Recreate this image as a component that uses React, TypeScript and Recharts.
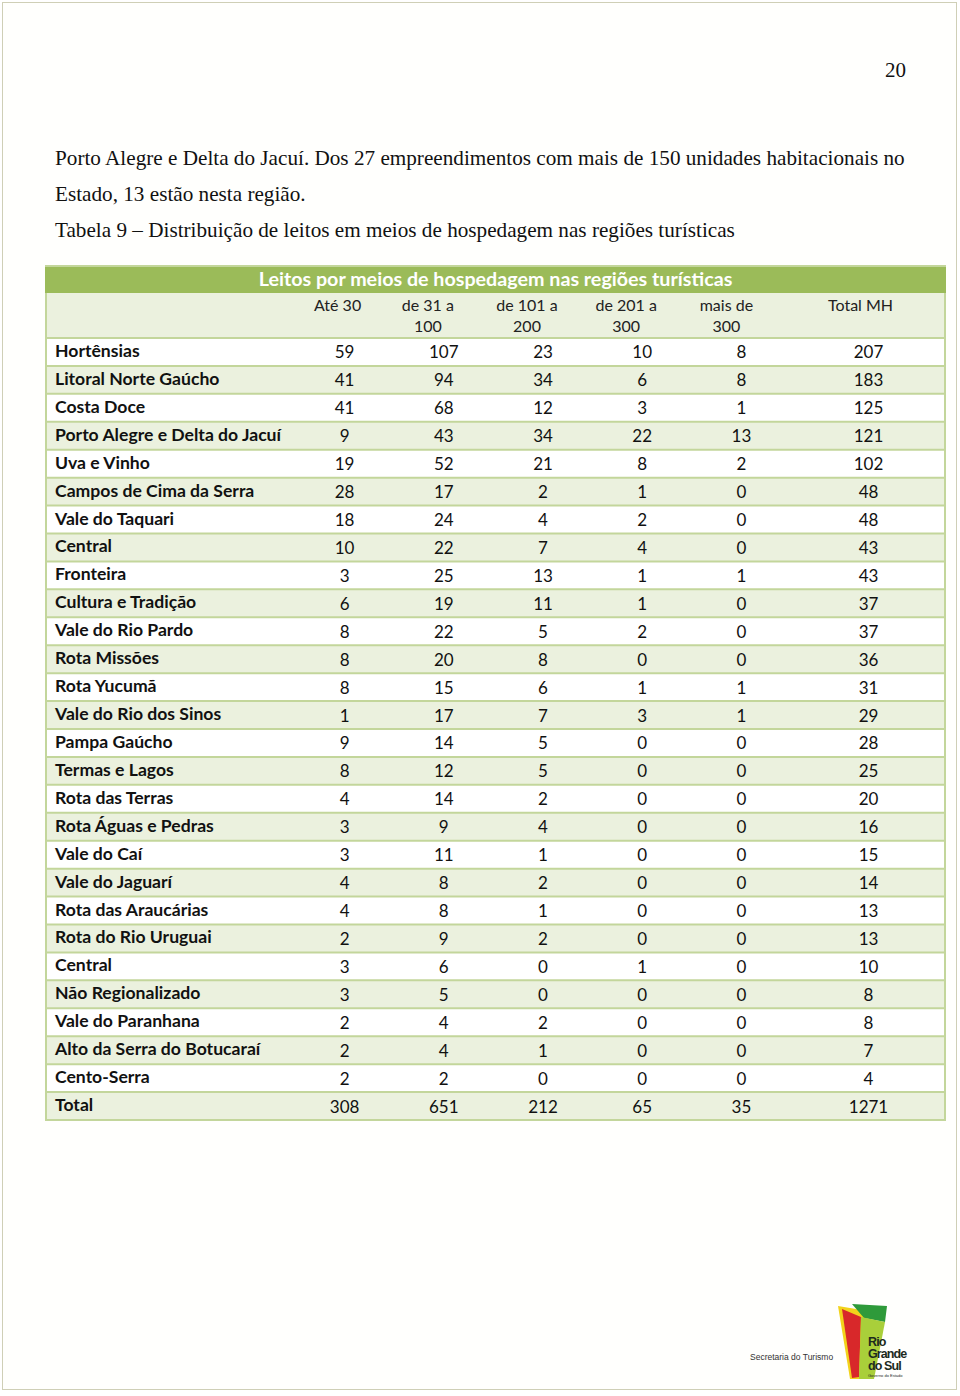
import React from "react";
import {
  ComposedChart,
  XAxis,
  YAxis,
  Scatter,
  CartesianGrid,
} from "recharts";

// ---------- DATA ----------
const regions = [
  "Hortênsias",
  "Litoral Norte Gaúcho",
  "Costa Doce",
  "Porto Alegre e Delta do Jacuí",
  "Uva e Vinho",
  "Campos de Cima da Serra",
  "Vale do Taquari",
  "Central",
  "Fronteira",
  "Cultura e Tradição",
  "Vale do Rio Pardo",
  "Rota Missões",
  "Rota Yucumã",
  "Vale do Rio dos Sinos",
  "Pampa Gaúcho",
  "Termas e Lagos",
  "Rota das Terras",
  "Rota Águas e Pedras",
  "Vale do Caí",
  "Vale do Jaguarí",
  "Rota das Araucárias",
  "Rota do Rio Uruguai",
  "Central",
  "Não Regionalizado",
  "Vale do Paranhana",
  "Alto da Serra do Botucaraí",
  "Cento-Serra",
  "Total",
];

const columns = ["Até 30", "de 31 a 100", "de 101 a 200", "de 201 a 300", "mais de 300"];
const columnHeaderLines = [["Até 30"], ["de 31 a", "100"], ["de 101 a", "200"], ["de 201 a", "300"], ["mais de", "300"]];
const totalColumn = "Total MH";

const ate30 = [59, 41, 41, 9, 19, 28, 18, 10, 3, 6, 8, 8, 8, 1, 9, 8, 4, 3, 3, 4, 4, 2, 3, 3, 2, 2, 2, 308];
const de31a100 = [107, 94, 68, 43, 52, 17, 24, 22, 25, 19, 22, 20, 15, 17, 14, 12, 14, 9, 11, 8, 8, 9, 6, 5, 4, 4, 2, 651];
const de101a200 = [23, 34, 12, 34, 21, 2, 4, 7, 13, 11, 5, 8, 6, 7, 5, 5, 2, 4, 1, 2, 1, 2, 0, 0, 2, 1, 0, 212];
const de201a300 = [10, 6, 3, 22, 8, 1, 2, 4, 1, 1, 2, 0, 1, 3, 0, 0, 0, 0, 0, 0, 0, 0, 1, 0, 0, 0, 0, 65];
const mais300 = [8, 8, 1, 13, 2, 0, 0, 0, 1, 0, 0, 0, 1, 1, 0, 0, 0, 0, 0, 0, 0, 0, 0, 0, 0, 0, 0, 35];
const totalMH = [207, 183, 125, 121, 102, 48, 48, 43, 43, 37, 37, 36, 31, 29, 28, 25, 20, 16, 15, 14, 13, 13, 10, 8, 8, 7, 4, 1271];

const columnValues = [ate30, de31a100, de101a200, de201a300, mais300];

const title = "Leitos por meios de hospedagem nas regiões turísticas";
const paragraphLines = [
  "Porto Alegre e Delta do Jacuí. Dos 27 empreendimentos com mais de 150 unidades habitacionais no",
  "Estado, 13 estão nesta região.",
  "Tabela 9 – Distribuição de leitos em meios de hospedagem nas regiões turísticas",
];
const pageNumber = "20";

// ---------- STYLE ----------
const FONT = "Lato, 'Open Sans', sans-serif";
const SERIF = "'Liberation Serif', 'DejaVu Serif', serif";
const GREEN = "#9bbb59";
const LIGHT = "#ebf1de";
const LINE = "#c3d69b";
const HEADER_DX = [-7, -16, -16, -16, -15];

const rowKeys = regions.map((_, i) => String(i));

const seriesData = (values: number[], col: string) =>
  rowKeys.map((k, i) => ({ row: k, col, value: values[i] }));

const CellText = (props: any) => {
  const { cx, cy, payload } = props;
  if (cx == null || cy == null) return null;
  return (
    <text x={cx} y={cy} textAnchor="middle" dominantBaseline="central" fontFamily={FONT} fontWeight={400} fontSize={17} fill="#111" stroke="none">
      {payload.value}
    </text>
  );
};

const RowLabel = (props: any) => {
  const { x, y, payload } = props;
  return (
    <text x={x} y={y - 1.5} textAnchor="start" dominantBaseline="central" fontFamily={FONT} fontWeight={700} fontSize={17.6} fill="#111" stroke="none">
      {regions[Number(payload.value)]}
    </text>
  );
};

const HeaderTick = (props: any) => {
  const { x, y, payload, shiftY } = props;
  const idx = columns.indexOf(payload.value);
  const ls: string[] = idx >= 0 ? columnHeaderLines[idx] : [payload.value];
  const tx = x + (idx >= 0 ? HEADER_DX[idx] : -8);
  return (
    <text x={tx} y={y + (shiftY || 0)} textAnchor="middle" fontFamily={FONT} fontWeight={400} fontSize={16} fill="#222" stroke="none">
      {ls.map((l, i) => (
        <tspan key={i} x={tx} dy={i === 0 ? 0 : 21}>
          {l}
        </tspan>
      ))}
    </text>
  );
};

// grid lines on the row band edges of the category y axis
const bandStart = (s: any, k: string): number | undefined => {
  try {
    if (typeof s === "function") return s(k);
    if (s && typeof s.map === "function") return s.map(k, { position: "start" });
    if (s && typeof s.apply === "function") return s.apply(k, { position: "start" });
  } catch (e) {
    return undefined;
  }
  return undefined;
};

const rowEdges = ({ yAxis, offset }: any) => {
  const n = rowKeys.length;
  const s = yAxis && yAxis.scale;
  const starts = rowKeys.map((k) => bandStart(s, k)).filter((v) => typeof v === "number" && isFinite(v as number)) as number[];
  if (starts.length === n) {
    const sorted = [...starts].sort((a, b) => a - b);
    const step = (sorted[n - 1] - sorted[0]) / (n - 1);
    return [...sorted, sorted[n - 1] + step];
  }
  if (offset) {
    return Array.from({ length: n + 1 }, (_, i) => offset.top + (i * offset.height) / n);
  }
  return [];
};

const tableSides = ({ offset }: any) => (offset ? [offset.left + 1, offset.left + offset.width - 1] : []);

const Logo = () => (
  <svg width={960} height={1396} style={{ position: "absolute", left: 0, top: 0, pointerEvents: "none" }}>
    <text x={750} y={1360} fontFamily="'Liberation Sans', Arial, sans-serif" fontSize={8.5} fill="#333">
      Secretaria do Turismo
    </text>
    <polygon points="838,1306 868,1311 862,1379 850,1379" fill="#f2d31b" />
    <polygon points="852,1304 887,1306 885,1322 864,1318" fill="#2e9a3a" />
    <polygon points="842,1309 861,1317 859,1377 852,1378" fill="#d8282a" />
    <polygon points="861,1317 885,1322 874,1379 859,1379" fill="#a9cf3a" />
    <text x={868} y={1346} fontFamily="'Liberation Sans', Arial, sans-serif" fontWeight={700} fontSize={12.5} fill="#1d2a1d" letterSpacing={-0.9}>
      Rio
    </text>
    <text x={868} y={1358} fontFamily="'Liberation Sans', Arial, sans-serif" fontWeight={700} fontSize={12.5} fill="#1d2a1d" letterSpacing={-0.9}>
      Grande
    </text>
    <text x={868} y={1370} fontFamily="'Liberation Sans', Arial, sans-serif" fontWeight={700} fontSize={12.5} fill="#1d2a1d" letterSpacing={-0.9}>
      do Sul
    </text>
    <text x={868} y={1376.5} fontFamily="'Liberation Sans', Arial, sans-serif" fontSize={4} fill="#1d2a1d">
      Governo do Estado
    </text>
  </svg>
);

export default function App() {
  return (
    <div style={{ position: "absolute", left: 0, top: 0, width: 960, height: 1396, background: "#ffffff", overflow: "hidden" }}>
      {/* page frame */}
      <div
        style={{
          position: "absolute",
          left: 2,
          top: 2,
          width: 953,
          height: 1386,
          border: "1.5px solid #cfcfb6",
          background: "#fffffd",
        }}
      />
      {/* page number */}
      <div style={{ position: "absolute", left: 885, top: 58, fontFamily: SERIF, fontSize: 21, color: "#111" }}>{pageNumber}</div>
      {/* paragraph */}
      {paragraphLines.map((l, i) => (
        <div
          key={i}
          style={{
            position: "absolute",
            left: 55,
            top: 146 + i * 36,
            fontFamily: SERIF,
            fontSize: 21.2,
            color: "#111",
            whiteSpace: "nowrap",
          }}
        >
          {l}
        </div>
      ))}
      {/* table header backgrounds */}
      <div style={{ position: "absolute", left: 45, top: 265, width: 901, height: 28, background: GREEN, borderTop: `2px solid ${LINE}`, boxSizing: "border-box" }} />
      <div style={{ position: "absolute", left: 45, top: 293, width: 901, height: 46, background: LIGHT, borderLeft: `2px solid ${LINE}`, borderRight: `2px solid ${LINE}`, boxSizing: "border-box" }} />
      <div
        style={{
          position: "absolute",
          left: 45,
          width: 901,
          top: 267,
          textAlign: "center",
          fontFamily: FONT,
          fontWeight: 700,
          fontSize: 19.7,
          color: "#ffffff",
        }}
      >
        {title}
      </div>

      <div style={{ position: "absolute", left: 0, top: 0 }}>
        <ComposedChart width={960} height={1396} margin={{ top: 292, left: 45, right: 14, bottom: 276 }}>
          <CartesianGrid
            horizontal
            vertical
            horizontalCoordinatesGenerator={rowEdges}
            verticalCoordinatesGenerator={tableSides}
            horizontalFill={["#ffffff", LIGHT]}
            fillOpacity={1}
            stroke={LINE}
            strokeWidth={2}
            strokeDasharray="0"
          />
          <XAxis
            xAxisId={0}
            type="category"
            dataKey="col"
            scale="band"
            orientation="top"
            height={45}
            allowDuplicatedCategory={false}
            ticks={columns}
            padding={{ left: 250, right: 155 }}
            axisLine={false}
            tickLine={false}
            tickSize={0}
            tickMargin={0}
            interval={0}
            tick={<HeaderTick shiftY={-27} />}
          />
          <XAxis
            xAxisId="total"
            type="category"
            dataKey="col"
            scale="band"
            orientation="top"
            height={1}
            allowDuplicatedCategory={false}
            ticks={[totalColumn]}
            padding={{ left: 746, right: 0 }}
            axisLine={false}
            tickLine={false}
            tickSize={0}
            tickMargin={0}
            interval={0}
            tick={<HeaderTick shiftY={18} />}
          />
          <YAxis
            yAxisId={0}
            type="category"
            dataKey="row"
            scale="band"
            reversed
            width={1}
            mirror
            allowDuplicatedCategory={false}
            ticks={rowKeys}
            axisLine={false}
            tickLine={false}
            tickSize={0}
            tickMargin={10}
            interval={0}
            tick={<RowLabel />}
          />
          {columns.map((c, ci) => (
            <Scatter
              key={c}
              name={c}
              xAxisId={0}
              yAxisId={0}
              data={seriesData(columnValues[ci], c)}
              shape={<CellText />}
              isAnimationActive={false}
            />
          ))}
          <Scatter
            name={totalColumn}
            xAxisId="total"
            yAxisId={0}
            data={seriesData(totalMH, totalColumn)}
            shape={<CellText />}
            isAnimationActive={false}
          />
        </ComposedChart>
      </div>
      <Logo />
    </div>
  );
}
